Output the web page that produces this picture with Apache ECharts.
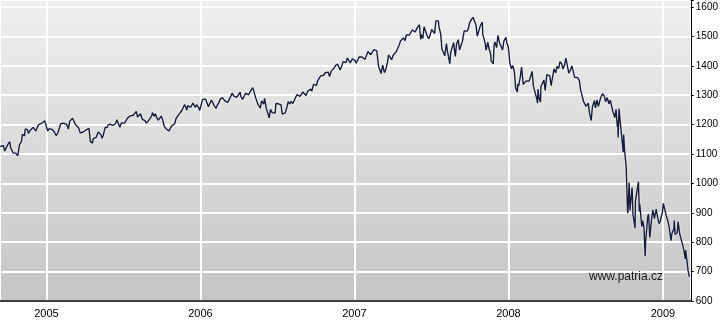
<!DOCTYPE html>
<html>
<head>
<meta charset="utf-8">
<script src="https://cdn.jsdelivr.net/npm/echarts@6/dist/echarts.min.js"></script>
<style>
html,body{margin:0;padding:0;background:#fff;}
#c{width:721px;height:322px;}
</style>
</head>
<body>
<div id="c"></div>
<script>
// S&P 500 style index level (dates and closes)
const dates = [
"2004-09-13","2004-09-17","2004-09-21","2004-09-24","2004-09-28","2004-10-01","2004-10-06","2004-10-08","2004-10-14","2004-10-20","2004-10-25","2004-10-29","2004-11-03","2004-11-05","2004-11-10","2004-11-12","2004-11-17","2004-11-19","2004-11-24","2004-11-26","2004-12-01","2004-12-03","2004-12-07","2004-12-10","2004-12-13","2004-12-17","2004-12-21","2004-12-23","2004-12-28","2004-12-31",
"2005-01-04","2005-01-07","2005-01-11","2005-01-14","2005-01-20","2005-01-24","2005-01-28","2005-02-01","2005-02-04","2005-02-08","2005-02-11","2005-02-15","2005-02-18","2005-02-22","2005-02-25","2005-03-01","2005-03-04","2005-03-07","2005-03-11","2005-03-15","2005-03-18","2005-03-22","2005-03-24","2005-03-28","2005-04-01","2005-04-04","2005-04-08","2005-04-12","2005-04-15","2005-04-20","2005-04-22","2005-04-26","2005-04-29","2005-05-04","2005-05-06","2005-05-10","2005-05-13","2005-05-16","2005-05-20","2005-05-25","2005-05-27","2005-06-01","2005-06-03","2005-06-07","2005-06-10","2005-06-14","2005-06-17","2005-06-21","2005-06-24","2005-06-28","2005-07-01","2005-07-05","2005-07-08","2005-07-12","2005-07-15","2005-07-19","2005-07-22","2005-07-26","2005-07-29","2005-08-02","2005-08-05","2005-08-09","2005-08-12","2005-08-16","2005-08-19","2005-08-23","2005-08-26","2005-08-30","2005-09-02","2005-09-08","2005-09-09","2005-09-14","2005-09-16","2005-09-20","2005-09-23","2005-09-27","2005-09-30","2005-10-04","2005-10-07","2005-10-11","2005-10-14","2005-10-18","2005-10-20","2005-10-21","2005-10-25","2005-10-28","2005-11-01","2005-11-04","2005-11-08","2005-11-11","2005-11-15","2005-11-18","2005-11-22","2005-11-25","2005-11-30","2005-12-02","2005-12-06","2005-12-09","2005-12-14","2005-12-16","2005-12-20","2005-12-23","2005-12-28","2005-12-30",
"2006-01-03","2006-01-06","2006-01-10","2006-01-13","2006-01-17","2006-01-20","2006-01-24","2006-01-27","2006-01-31","2006-02-03","2006-02-07","2006-02-10","2006-02-14","2006-02-17","2006-02-22","2006-02-24","2006-02-28","2006-03-03","2006-03-07","2006-03-10","2006-03-14","2006-03-17","2006-03-21","2006-03-24","2006-03-28","2006-03-31","2006-04-05","2006-04-07","2006-04-11","2006-04-13","2006-04-18","2006-04-21","2006-04-25","2006-04-28","2006-05-02","2006-05-05","2006-05-08","2006-05-12","2006-05-17","2006-05-19","2006-05-23","2006-05-26","2006-05-31","2006-06-02","2006-06-06","2006-06-08","2006-06-09","2006-06-13","2006-06-16","2006-06-20","2006-06-23","2006-06-27","2006-06-29","2006-06-30","2006-07-05","2006-07-07","2006-07-11","2006-07-14","2006-07-18","2006-07-21","2006-07-25","2006-07-28","2006-08-01","2006-08-04","2006-08-08","2006-08-11","2006-08-15","2006-08-18","2006-08-22","2006-08-25","2006-08-29","2006-09-01","2006-09-05","2006-09-08","2006-09-12","2006-09-15","2006-09-19","2006-09-22","2006-09-26","2006-09-29","2006-10-03","2006-10-06","2006-10-10","2006-10-13","2006-10-17","2006-10-20","2006-10-24","2006-10-27","2006-10-31","2006-11-03","2006-11-07","2006-11-10","2006-11-14","2006-11-17","2006-11-22","2006-11-24","2006-11-28","2006-12-01","2006-12-05","2006-12-08","2006-12-12","2006-12-15","2006-12-19","2006-12-22","2006-12-27","2006-12-29",
"2007-01-03","2007-01-05","2007-01-09","2007-01-12","2007-01-16","2007-01-19","2007-01-23","2007-01-26","2007-01-30","2007-02-02","2007-02-06","2007-02-09","2007-02-13","2007-02-16","2007-02-20","2007-02-23","2007-02-27","2007-03-02","2007-03-05","2007-03-09","2007-03-13","2007-03-16","2007-03-20","2007-03-23","2007-03-27","2007-03-30","2007-04-03","2007-04-05","2007-04-10","2007-04-13","2007-04-17","2007-04-20","2007-04-24","2007-04-27","2007-05-01","2007-05-04","2007-05-08","2007-05-11","2007-05-15","2007-05-18","2007-05-22","2007-05-25","2007-05-30","2007-06-01","2007-06-04","2007-06-07","2007-06-08","2007-06-12","2007-06-15","2007-06-19","2007-06-22","2007-06-26","2007-06-29","2007-07-03","2007-07-06","2007-07-10","2007-07-13","2007-07-19","2007-07-20","2007-07-24","2007-07-26","2007-07-27","2007-07-31","2007-08-03","2007-08-07","2007-08-09","2007-08-10","2007-08-15","2007-08-16","2007-08-17","2007-08-21","2007-08-24","2007-08-28","2007-08-31","2007-09-04","2007-09-07","2007-09-11","2007-09-14","2007-09-18","2007-09-21","2007-09-25","2007-09-28","2007-10-01","2007-10-05","2007-10-09","2007-10-12","2007-10-16","2007-10-19","2007-10-22","2007-10-26","2007-10-31","2007-11-01","2007-11-02","2007-11-07","2007-11-09","2007-11-13","2007-11-16","2007-11-20","2007-11-21","2007-11-26","2007-11-28","2007-11-30","2007-12-04","2007-12-07","2007-12-11","2007-12-14","2007-12-18","2007-12-21","2007-12-26","2007-12-28","2007-12-31",
"2008-01-02","2008-01-04","2008-01-08","2008-01-11","2008-01-15","2008-01-18","2008-01-22","2008-01-23","2008-01-25","2008-01-29","2008-02-01","2008-02-05","2008-02-08","2008-02-12","2008-02-15","2008-02-19","2008-02-22","2008-02-26","2008-02-29","2008-03-04","2008-03-07","2008-03-10","2008-03-11","2008-03-14","2008-03-17","2008-03-18","2008-03-20","2008-03-25","2008-03-28","2008-04-01","2008-04-04","2008-04-08","2008-04-11","2008-04-15","2008-04-18","2008-04-22","2008-04-25","2008-04-29","2008-05-02","2008-05-06","2008-05-09","2008-05-13","2008-05-16","2008-05-19","2008-05-23","2008-05-28","2008-05-30","2008-06-03","2008-06-06","2008-06-09","2008-06-13","2008-06-17","2008-06-20","2008-06-24","2008-06-27","2008-07-01","2008-07-03","2008-07-08","2008-07-11","2008-07-15","2008-07-18","2008-07-23","2008-07-25","2008-07-29","2008-08-01","2008-08-05","2008-08-08","2008-08-11","2008-08-15","2008-08-18","2008-08-22","2008-08-26","2008-08-29","2008-09-02","2008-09-05","2008-09-09","2008-09-12","2008-09-15","2008-09-16","2008-09-17","2008-09-19","2008-09-22","2008-09-26","2008-09-29","2008-09-30","2008-10-02","2008-10-03","2008-10-06","2008-10-09","2008-10-10","2008-10-13","2008-10-15","2008-10-17","2008-10-20","2008-10-22","2008-10-24","2008-10-27","2008-10-28","2008-10-31","2008-11-04","2008-11-06","2008-11-07","2008-11-12","2008-11-14","2008-11-17","2008-11-20","2008-11-21","2008-11-24","2008-11-26","2008-11-28","2008-12-01","2008-12-05","2008-12-08","2008-12-12","2008-12-16","2008-12-19","2008-12-23","2008-12-26","2008-12-31",
"2009-01-02","2009-01-06","2009-01-09","2009-01-13","2009-01-16","2009-01-20","2009-01-22","2009-01-23","2009-01-27","2009-01-28","2009-01-30","2009-02-04","2009-02-06","2009-02-09","2009-02-10","2009-02-13","2009-02-17","2009-02-20","2009-02-23","2009-02-24","2009-02-27","2009-03-02","2009-03-03","2009-03-05","2009-03-06"
];
const values = [
1125,1128,1129,1110,1110,1131,1142,1122,1104,1103,1094,1130,1143,1167,1162,1185,1183,1170,1181,1182,1191,1191,1178,1189,1199,1194,1205,1210,1213,1212,
1178,1186,1183,1184,1175,1163,1171,1190,1203,1202,1205,1210,1201,1185,1211,1210,1222,1225,1200,1197,1190,1172,1172,1174,1172,1181,1182,1187,1143,1137,1152,1152,1157,1175,1172,1166,1154,1165,1190,1190,1198,1202,1197,1197,1201,1204,1217,1213,1191,1206,1211,1205,1212,1222,1228,1230,1234,1232,1234,1245,1226,1224,1237,1219,1220,1213,1205,1208,1218,1231,1241,1228,1237,1222,1215,1215,1229,1214,1195,1187,1186,1178,1177,1179,1196,1198,1203,1220,1219,1235,1229,1248,1261,1268,1249,1265,1263,1259,1273,1267,1259,1268,1258,1248,
1269,1285,1290,1287,1283,1261,1266,1284,1280,1264,1255,1266,1275,1287,1292,1289,1281,1287,1276,1281,1297,1307,1297,1302,1293,1295,1311,1295,1286,1289,1307,1311,1301,1310,1313,1326,1325,1291,1270,1267,1256,1281,1270,1289,1256,1257,1253,1223,1252,1241,1245,1239,1272,1270,1271,1265,1267,1236,1236,1240,1260,1278,1270,1279,1272,1267,1294,1302,1298,1296,1302,1311,1314,1299,1313,1319,1321,1314,1337,1336,1334,1350,1354,1366,1364,1368,1377,1377,1378,1364,1382,1380,1393,1401,1406,1400,1386,1396,1414,1409,1411,1427,1425,1410,1424,1418,
1417,1409,1412,1430,1431,1430,1427,1422,1428,1449,1450,1438,1444,1455,1459,1451,1400,1387,1374,1402,1377,1386,1410,1437,1428,1421,1437,1443,1448,1452,1471,1484,1480,1495,1486,1505,1507,1505,1501,1522,1525,1515,1530,1536,1540,1490,1507,1493,1533,1535,1503,1492,1503,1524,1530,1510,1553,1553,1534,1511,1483,1459,1455,1434,1476,1453,1453,1407,1411,1445,1447,1479,1432,1474,1489,1454,1471,1484,1519,1525,1518,1527,1547,1557,1565,1561,1539,1501,1507,1535,1549,1509,1509,1475,1453,1481,1458,1439,1416,1407,1470,1481,1462,1504,1477,1468,1454,1484,1497,1478,1468,
1447,1411,1390,1401,1380,1325,1311,1338,1331,1362,1396,1337,1331,1349,1349,1348,1353,1381,1331,1327,1294,1273,1321,1288,1277,1330,1330,1352,1316,1370,1370,1366,1333,1335,1390,1376,1398,1391,1414,1407,1389,1404,1426,1427,1375,1390,1400,1378,1361,1361,1360,1350,1318,1314,1278,1284,1262,1273,1240,1214,1261,1282,1257,1284,1261,1284,1297,1305,1298,1278,1292,1271,1283,1277,1242,1224,1252,1193,1214,1156,1255,1208,1213,1106,1166,1114,1100,1056,910,899,1003,908,941,986,896,877,848,941,968,1006,905,931,853,873,851,752,800,852,887,896,816,876,910,880,913,888,863,873,903,
932,935,890,871,851,805,828,832,845,874,826,832,869,870,827,827,789,770,743,773,735,700,696,682,683
];
const yTicks = [600,700,800,900,1000,1100,1200,1300,1400,1500,1600];
const watermark = "www.patria.cz";

const chart = echarts.init(document.getElementById('c'), null, {renderer:'canvas'});
const FONT = '"Liberation Sans", Arial, sans-serif';
chart.setOption({
  animation: false,
  grid: {
    left: 0, right: 30, top: 0, bottom: 21,
    show: true, borderWidth: 0,
    backgroundColor: {
      type: 'linear', x: 0, y: 0, x2: 0, y2: 1,
      colorStops: [{offset: 0, color: '#efefef'}, {offset: 1, color: '#c5c5c5'}]
    }
  },
  xAxis: {
    type: 'time',
    min: '2004-09-13',
    max: '2009-03-08',
    minInterval: 365 * 24 * 3600 * 1000,
    maxInterval: 366 * 24 * 3600 * 1000,
    axisLine: {show: true, lineStyle: {color: '#000', width: 1.5}},
    axisTick: {show: false},
    axisLabel: {
      formatter: '{yyyy}', color: '#000', fontSize: 11, fontFamily: FONT, margin: 7,
      showMinLabel: false, showMaxLabel: false
    },
    splitLine: {show: true, lineStyle: {color: '#ffffff', width: 2}}
  },
  yAxis: {
    type: 'value',
    position: 'right',
    min: 600,
    max: 1624,
    interval: 100,
    axisLine: {show: true, lineStyle: {color: '#000', width: 1}},
    axisTick: {show: true, length: 3, lineStyle: {color: '#000'}},
    axisLabel: {
      color: '#000', fontSize: 10, fontFamily: FONT, margin: 5,
      formatter: function (v) { return yTicks.indexOf(v) >= 0 ? String(v) : ''; }
    },
    splitLine: {show: true, lineStyle: {color: '#ffffff', width: 2}}
  },
  series: [{
    type: 'line',
    data: dates.map(function (d, i) { return [d, values[i]]; }),
    showSymbol: false,
    symbol: 'none',
    sampling: null,
    lineStyle: {
      color: '#161b3a', width: 1.4,
      shadowColor: 'rgba(255,255,255,0.9)', shadowBlur: 2
    },
    z: 3
  }],
  graphic: [{
    type: 'text',
    left: 589, top: 271,
    style: {text: watermark, fill: '#1a1a1a', font: '12px ' + FONT},
    z: 10
  }]
});
</script>
</body>
</html>
